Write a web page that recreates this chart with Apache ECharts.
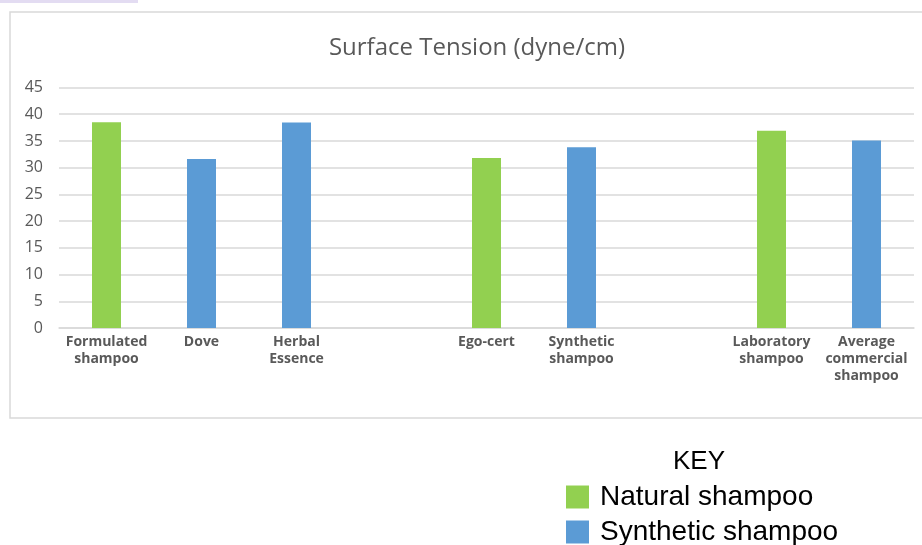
<!DOCTYPE html>
<html>
<head>
<meta charset="utf-8">
<script src="https://cdn.jsdelivr.net/npm/echarts@6/dist/echarts.min.js"></script>
<style>html,body{margin:0;padding:0;background:#fff}#c{width:922px;height:545px}</style>
</head>
<body>
<div id="c"></div>
<script>
const categories = ['Formulated\nshampoo', 'Dove', 'Herbal\nEssence', '', 'Ego-cert', 'Synthetic\nshampoo', '', 'Laboratory\nshampoo', 'Average\ncommercial\nshampoo'];
const naturalValues = [38.5, null, null, null, 31.8, null, null, 36.9, null];
const syntheticValues = [null, 31.6, 38.45, null, null, 33.8, null, null, 35.1];
const yTicks = { min: 0, max: 45, interval: 5 };

const legendText = { fontFamily: 'Liberation Sans', fontSize: 28, lineHeight: 23, color: '#000', padding: [0, 0, 0, 6] };

const chart = echarts.init(document.getElementById('c'), null, { renderer: 'canvas' });
chart.setOption({
  animation: false,
  title: {
    text: 'Surface Tension (dyne/cm)',
    left: 472, top: 31, textAlign: 'center',
    textStyle: { fontFamily: 'Open Sans', fontWeight: 'normal', fontSize: 24, color: '#595959' }
  },
  graphic: [
    { type: 'rect', shape: { x: 10, y: 12, width: 930, height: 406 }, style: { fill: 'none', stroke: '#d9d9d9', lineWidth: 1.5 }, z: -1 },
    { type: 'rect', shape: { x: 0, y: 0, width: 138, height: 3 }, style: { fill: '#e3dcf2' } },
    { type: 'text', left: 673, top: 449, style: { text: 'KEY', font: '26px "Liberation Sans", Arial', fill: '#000' } }
  ],
  legend: [
    { left: 566, top: 483, padding: 0, itemWidth: 23, itemHeight: 23, icon: 'rect', textStyle: legendText, data: ['Natural shampoo'] },
    { left: 566, top: 518, padding: 0, itemWidth: 23, itemHeight: 23, icon: 'rect', textStyle: legendText, data: ['Synthetic shampoo'] }
  ],
  grid: { left: 59, right: 8, top: 87.5, bottom: 217, containLabel: false },
  xAxis: {
    type: 'category', data: categories,
    axisLine: { lineStyle: { color: '#d9d9d9', width: 1.5 } },
    axisTick: { show: false },
    axisLabel: { interval: 0, margin: 6, fontFamily: 'Open Sans', fontWeight: 'bold', fontSize: 14, lineHeight: 17, color: '#595959' }
  },
  yAxis: {
    type: 'value', min: yTicks.min, max: yTicks.max, interval: yTicks.interval,
    axisLine: { show: false }, axisTick: { show: false },
    axisLabel: { margin: 16, fontFamily: 'Open Sans', fontSize: 16, color: '#595959' },
    splitLine: { lineStyle: { color: '#d9d9d9', width: 1.5 } }
  },
  series: [
    { name: 'Natural shampoo', type: 'bar', data: naturalValues, barWidth: 29, barGap: '-100%', itemStyle: { color: '#92d050' } },
    { name: 'Synthetic shampoo', type: 'bar', data: syntheticValues, barWidth: 29, barGap: '-100%', itemStyle: { color: '#5b9bd5' } }
  ]
});
</script>
</body>
</html>
